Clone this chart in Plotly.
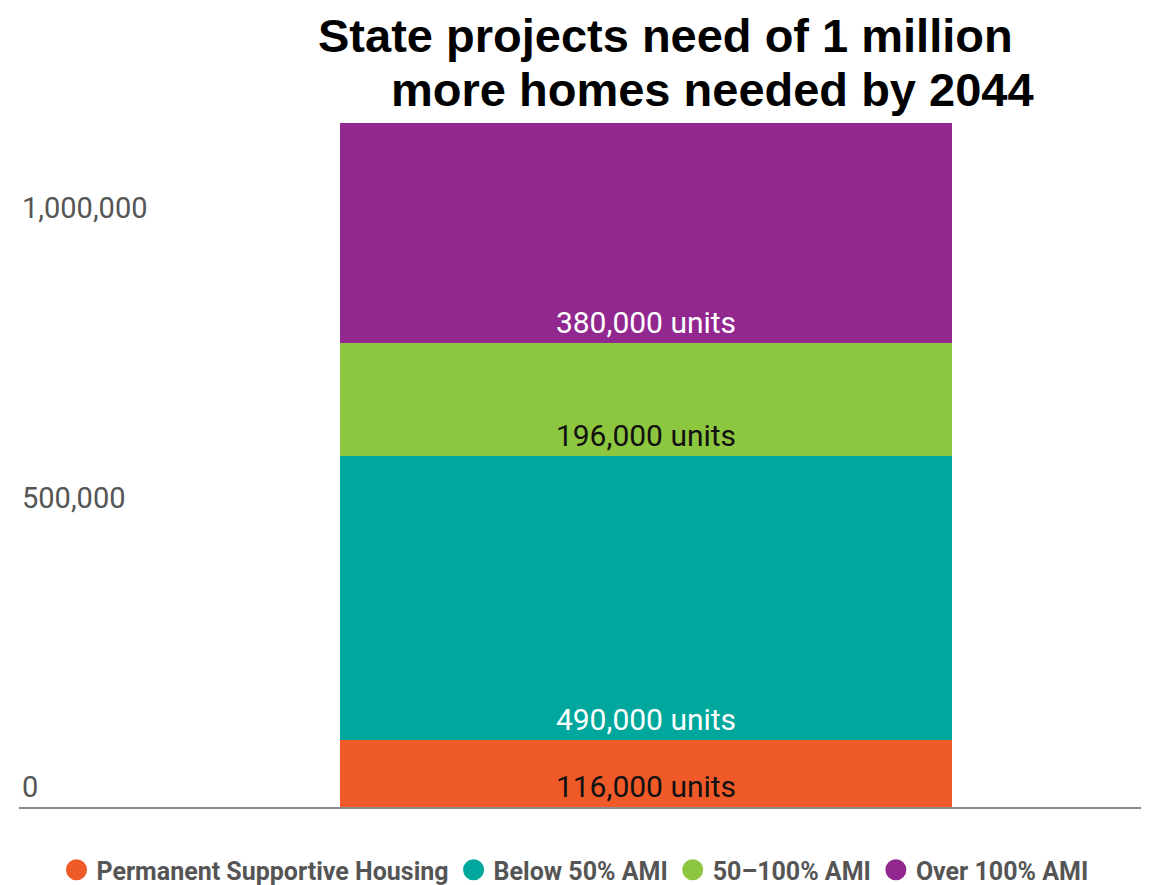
import plotly.graph_objects as go

categories = ["Permanent Supportive Housing", "Below 50% AMI", "50–100% AMI", "Over 100% AMI"]
units = [116000, 490000, 196000, 380000]
colors = ["#F05A28", "#00A79D", "#8DC63F", "#92278F"]
label_colors = ["#111111", "#ffffff", "#111111", "#ffffff"]
tick_values = [0, 500000, 1000000]
tick_labels = ["0", "500,000", "1,000,000"]

# page has an 8px body margin; figure coordinates = screen coordinates - 8
OFF = 8
W, H = 1151 - OFF, 885 - OFF
L, R, T, B = 19 - OFF, W - (1141 - OFF), 100 - OFF, H - (807 - OFF)

fig = go.Figure()
for name, val, col, lc in zip(categories, units, colors, label_colors):
    fig.add_trace(go.Bar(
        x=[0], y=[val], name=name, marker=dict(color=col, line=dict(width=0)),
        width=1, showlegend=False,
        texttemplate="%{y:,} units", textposition="inside", insidetextanchor="start",
        textangle=0, constraintext="none",
        textfont=dict(family="Roboto", size=30, color=lc),
        hoverinfo="skip",
    ))
for name, col in zip(categories, colors):
    fig.add_trace(go.Scatter(
        x=[None], y=[None], mode="markers", name=name,
        marker=dict(symbol="circle", size=16, color=col, line=dict(color=col, width=5)),
    ))

pw = W - L - R
ph = H - T - B

fig.update_layout(
    width=W, height=H,
    barmode="stack", bargap=0,
    plot_bgcolor="white", paper_bgcolor="white",
    margin=dict(l=L, r=R, t=T, b=B, autoexpand=False),
    xaxis=dict(range=[-1.0245, 0.809], showticklabels=False, showgrid=False,
               zeroline=False, showline=True, linecolor="#8a8a8a", linewidth=2,
               fixedrange=True),
    yaxis=dict(range=[0, 1221750], tickvals=tick_values, ticktext=tick_labels,
               ticklabelposition="inside top", showgrid=False, zeroline=False,
               showline=False, ticks="",
               tickfont=dict(family="Roboto", size=29, color="#555555")),
    legend=dict(orientation="h", x=(575 - 19) / pw, xanchor="center",
                y=(807 - 870) / ph, yanchor="middle",
                font=dict(family="Roboto", size=25, color="#555555", weight="bold"),
                traceorder="normal", tracegroupgap=0),
    showlegend=True,
)
for txt, sx, sy in [("State projects need of 1 million", 665, 35),
                    ("more homes needed by 2044", 712, 90)]:
    fig.add_annotation(text=txt, x=(sx - 19) / pw, y=(807 - sy) / ph,
                       xref="paper", yref="paper", xanchor="center", yanchor="middle",
                       showarrow=False, borderpad=0,
                       font=dict(family="Liberation Sans", size=47, color="black", weight="bold"))

fig.write_html("out.html")
